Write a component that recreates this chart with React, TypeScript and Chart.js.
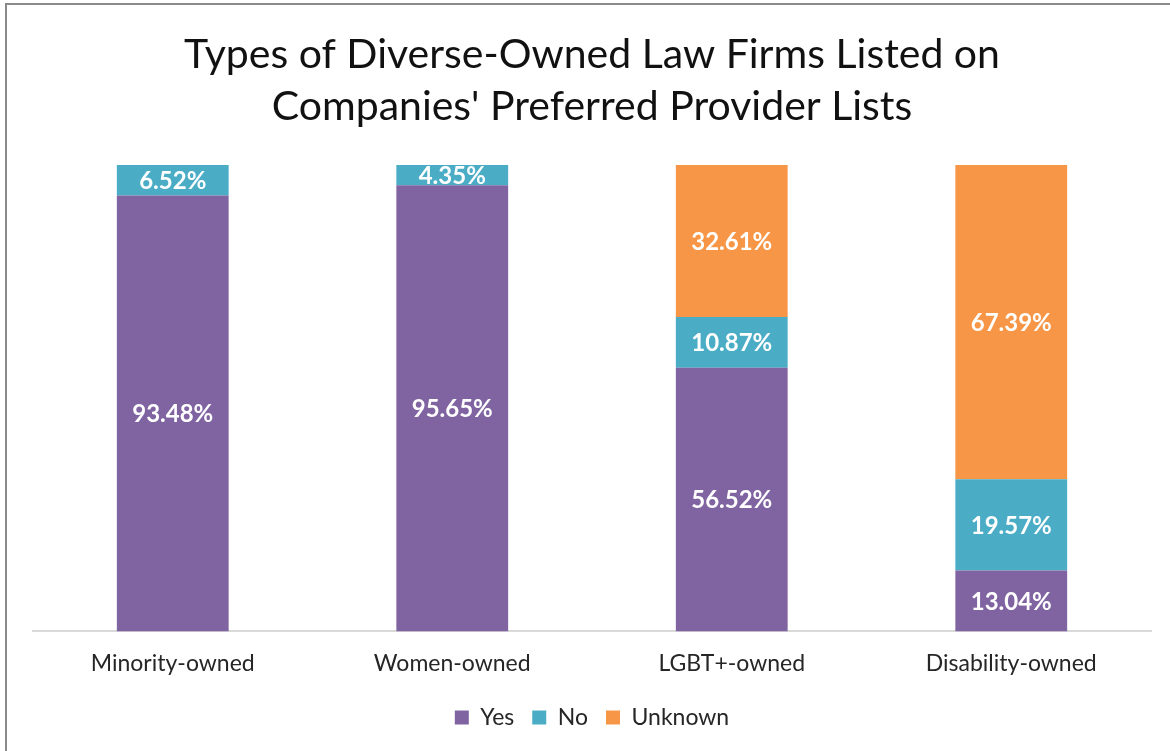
import React, { useEffect, useRef } from "react";
import { Chart, registerables } from "chart.js";
Chart.register(...registerables);

const categories = ["Minority-owned", "Women-owned", "LGBT+-owned", "Disability-owned"];
const yesValues = [93.48, 95.65, 56.52, 13.04];
const noValues = [6.52, 4.35, 10.87, 19.57];
const unknownValues: (number | null)[] = [null, null, 32.61, 67.39];
const seriesNames = ["Yes", "No", "Unknown"];
const seriesColors = ["#8064A2", "#4BACC6", "#F79646"];
const titleLines = ["Types of Diverse-Owned Law Firms Listed on", "Companies' Preferred Provider Lists"];

const FONT = "Lato";

const segLabels = {
  id: "segLabels",
  afterDatasetsDraw(chart: any) {
    const ctx = chart.ctx;
    ctx.save();
    ctx.font = `bold 24px ${FONT}`;
    ctx.fillStyle = "#ffffff";
    ctx.textAlign = "center";
    ctx.textBaseline = "middle";
    chart.data.datasets.forEach((ds: any, i: number) => {
      const meta = chart.getDatasetMeta(i);
      meta.data.forEach((bar: any, j: number) => {
        const v = ds.data[j];
        if (v == null || v === 0) return;
        const p = bar.getProps(["x", "y", "base"], true);
        ctx.fillText(v.toFixed(2) + "%", p.x, (p.y + p.base) / 2 + 1);
      });
    });
    ctx.restore();
  },
};

export default function App() {
  const ref = useRef<HTMLCanvasElement>(null);
  useEffect(() => {
    if (!ref.current) return;
    const chart = new Chart(ref.current, {
      type: "bar",
      data: {
        labels: categories,
        datasets: [
          { label: seriesNames[0], data: yesValues, backgroundColor: seriesColors[0] },
          { label: seriesNames[1], data: noValues, backgroundColor: seriesColors[1] },
          { label: seriesNames[2], data: unknownValues, backgroundColor: seriesColors[2] },
        ],
      },
      options: {
        responsive: false,
        animation: false,
        datasets: { bar: { categoryPercentage: 1, barPercentage: 0.4 } },
        layout: { padding: { left: 33, right: 19, top: 0, bottom: 12 } },
        scales: {
          x: {
            stacked: true,
            grid: { display: false, drawTicks: false },
            border: { display: true, color: "#D9D9D9", width: 2 },
            ticks: { color: "#262626", font: { family: FONT, size: 23 }, padding: 18 },
            afterFit: (scale: any) => {
              scale.height -= 7;
            },
          },
          y: { stacked: true, display: false, min: 0, max: 100 },
        },
        plugins: {
          title: {
            display: true,
            text: titleLines,
            color: "#111111",
            font: { family: FONT, size: 41, weight: "normal", lineHeight: 1.268 },
            padding: { top: 29, bottom: 32 },
          },
          legend: {
            position: "bottom",
            labels: {
              boxWidth: 14,
              boxHeight: 14,
              padding: 18,
              color: "#262626",
              font: { family: FONT, size: 23 },
            },
          },
          tooltip: { enabled: false },
        },
      },
      plugins: [segLabels],
    } as any);
    return () => chart.destroy();
  }, []);
  return (
    <div style={{ position: "fixed", left: 0, top: 0, width: 1170, height: 751, overflow: "hidden", background: "#fff" }}>
      <canvas ref={ref} width={1170} height={751} style={{ position: "absolute", left: 0, top: 0 }} />
      <div
        style={{
          position: "absolute",
          left: 5,
          top: 3,
          width: 1200,
          height: 800,
          borderTop: "2px solid #8a8a8a",
          borderLeft: "2px solid #8a8a8a",
          pointerEvents: "none",
        }}
      />
    </div>
  );
}
